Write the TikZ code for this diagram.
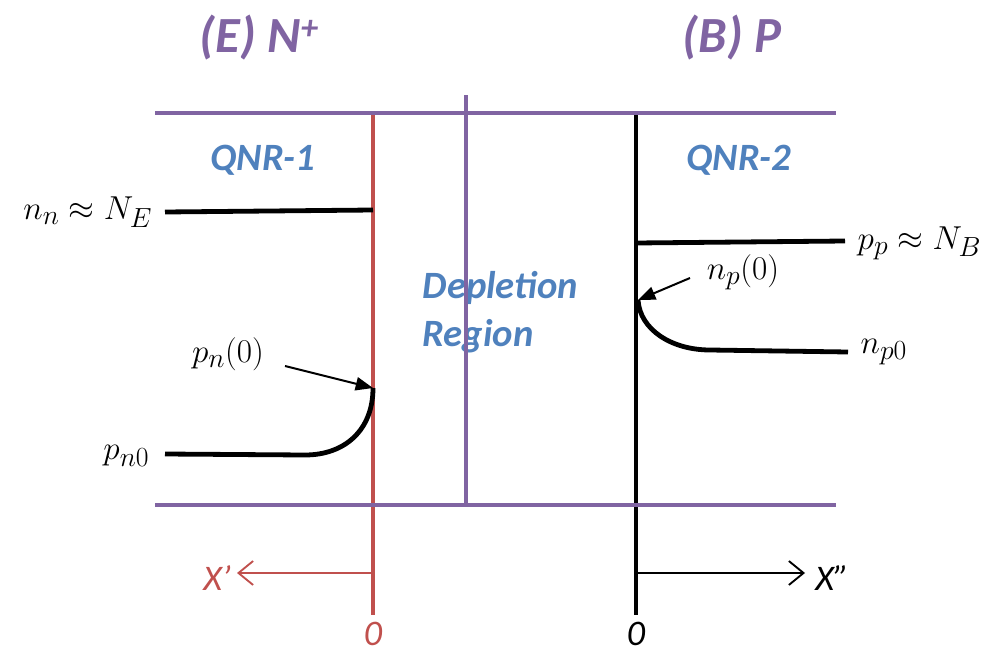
\documentclass[tikz,border=0pt]{standalone}
\usepackage{fontspec}
\setmainfont{Carlito}
\usetikzlibrary{arrows.meta}
\DeclareMathSizes{30}{30}{22}{16}
\definecolor{pur}{HTML}{8064A2}
\definecolor{blu}{HTML}{4F81BD}
\definecolor{red2}{HTML}{C0504D}
\tikzset{
  band/.style={pur,line width=3pt},
  curve/.style={black,line width=3.6pt},
  ptr/.style={black,line width=1.5pt,-{Triangle[length=13pt,width=10pt]}},
  axisarr/.style={line width=1.4pt,-{Straight Barb[length=11pt,width=18pt,line width=1.4pt]}},
  region/.style={text=blu,font=\fontsize{29}{36}\selectfont\bfseries\itshape},
  ttl/.style={text=pur,font=\fontsize{38}{42}\selectfont\bfseries\itshape},
  mth/.style={font=\fontsize{30}{34}\selectfont},
  ax/.style={font=\fontsize{27}{30}\selectfont\itshape}
}
\begin{document}
\begin{tikzpicture}[x=0.75pt,y=-0.75pt]
\useasboundingbox (0,0) rectangle (996,653);
% coordinates
\coordinate (tl) at (155,113); \coordinate (tr) at (836,113);
\coordinate (bl) at (155,505); \coordinate (br) at (836,505);
\coordinate (mt) at (466,95); \coordinate (mb) at (466,505);
\coordinate (rt) at (373,115); \coordinate (rb) at (373,615);
\coordinate (kt) at (636,115); \coordinate (kb) at (636,615);
\coordinate (nnA) at (165,212); \coordinate (nnB) at (373,210);
\coordinate (ppA) at (636,243); \coordinate (ppB) at (845,241);
\coordinate (np0) at (638,300); \coordinate (npc) at (710,350); \coordinate (npE) at (848,352);
\coordinate (pn0) at (373,388); \coordinate (pnc) at (305,455); \coordinate (pnE) at (165,454);
\coordinate (xr) at (373,573); \coordinate (xk) at (636,573);
\coordinate (xl) at (237,573); \coordinate (xe) at (805,573);
\coordinate (pa) at (285,366); \coordinate (na) at (690,278);
% text nodes
\node[ttl] (tE) at (259,38) {(E) N\raisebox{0.55ex}{\fontsize{26}{26}\selectfont +}};
\node[ttl] (tB) at (732,38) {(B) P};
\node[region] (q1) at (263,160) {QNR-1};
\node[region] (q2) at (739,160) {QNR-2};
\node[region,align=left,anchor=west] (dep) at (418,312) {Depletion\\Region};
\node[mth,anchor=east] (lnn) at (157,212) {$n_n\approx N_E$};
\node[mth,anchor=west] (lpp) at (853,243) {$p_p\approx N_B$};
\node[mth,anchor=west] (lnp0) at (856,352) {$n_{p0}$};
\node[mth,anchor=east] (lpn0) at (154,456) {$p_{n0}$};
\node[mth] (lpn) at (228,354) {$p_n(0)$};
\node[mth] (lnp) at (743,272) {$n_p(0)$};
\node[ax,text=red2] (lx1) at (217,578) {X’};
\node[ax] (lx2) at (832,578) {X”};
\node[ax,text=red2,inner sep=0pt] (z1) at (373,634) {0};
\node[ax,inner sep=0pt] (z2) at (636,634) {0};
% lines
\draw[red2,line width=3.6pt] (rt) -- (rb);
\draw[curve] (kt) -- (kb);
\draw[band] (tl) -- (tr);
\draw[band] (bl) -- (br);
\draw[band] (mt) -- (mb);
\draw[curve] (nnA) -- (nnB);
\draw[curve] (ppA) -- (ppB);
\draw[curve] (np0) .. controls (640,330) and (672,350) .. (npc) -- (npE);
\draw[curve] (pn0) .. controls (373,430) and (345,455) .. (pnc) -- (pnE);
\draw[ptr] (pa) -- (pn0);
\draw[ptr] (na) -- (np0);
\draw[axisarr,red2] (xr) -- (xl);
\draw[axisarr] (xk) -- (xe);
\end{tikzpicture}
\end{document}
